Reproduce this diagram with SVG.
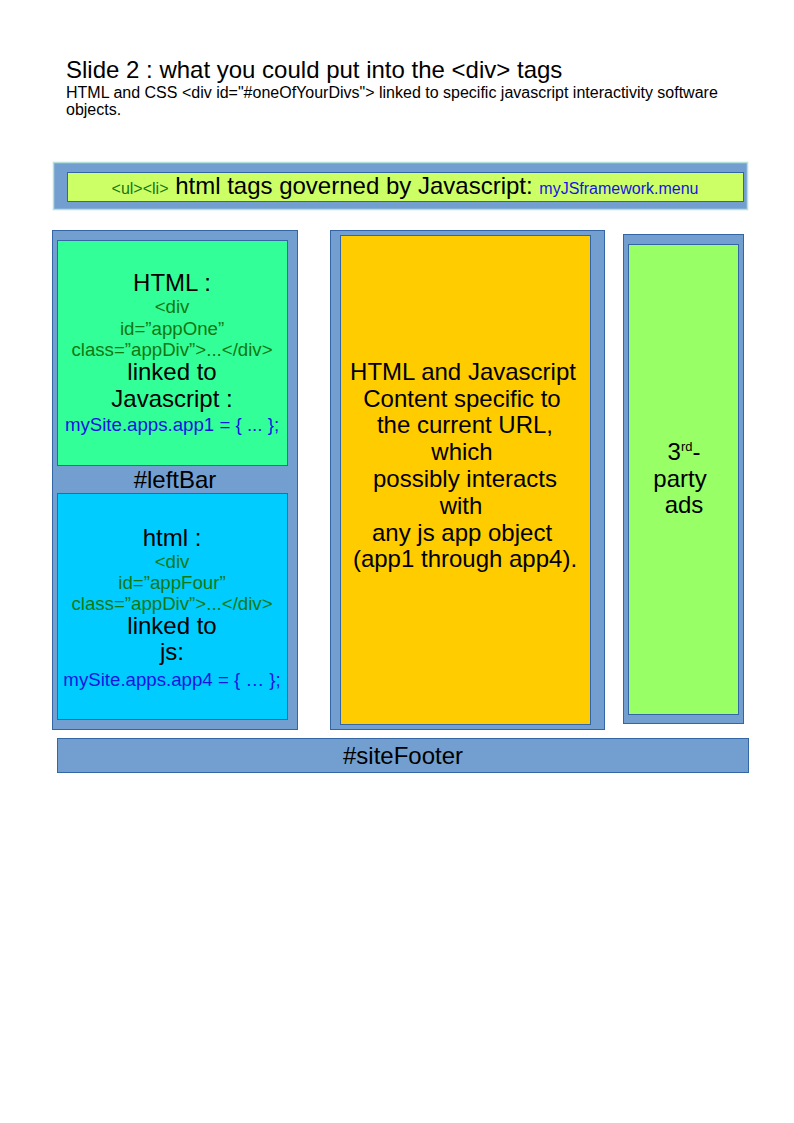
<svg xmlns="http://www.w3.org/2000/svg" width="794" height="1123" viewBox="0 0 794 1123">
<style>
text{font-family:"Liberation Sans",Arial,sans-serif;fill:#000}
.c{text-anchor:middle}
.big{font-size:24px}
.sm{font-size:18.67px}
.grn{fill:#127812}
.blu{fill:#1515e0}
.frame{fill:#729fcf;stroke:#3465a4;stroke-width:1}
</style>
<rect width="794" height="1123" fill="#fff"/>
<g id="title">
<text x="66" y="78" style="font-size:24px">Slide 2 : what you could put into the &lt;div&gt; tags</text>
<text x="66" y="98" style="font-size:16px">HTML and CSS &lt;div id="#oneOfYourDivs"&gt; linked to specific javascript interactivity software</text>
<text x="66" y="115" style="font-size:16px">objects.</text>
</g>
<g id="menu">
<rect x="53.5" y="162.5" width="694" height="47" fill="#729fcf" stroke="#b4e0dc" stroke-width="1.5"/>
<rect x="67.5" y="172.5" width="676" height="29" fill="#ccff66" stroke="#3465a4" stroke-width="1"/>
<text x="405" y="194" class="c"><tspan class="grn" style="font-size:16px">&lt;ul&gt;&lt;li&gt;</tspan><tspan style="font-size:24px"> html tags governed by Javascript: </tspan><tspan class="blu" style="font-size:16px">myJSframework.menu</tspan></text>
</g>
<g id="leftBar">
<rect class="frame" x="52.5" y="230.5" width="245" height="499"/>
<text x="175" y="488" class="c big">#leftBar</text>
</g>
<g id="appOne">
<rect x="57.5" y="240.5" width="230" height="225" fill="#33ff99" stroke="#3465a4"/>
<text x="172" y="291" class="c big">HTML :</text>
<text x="172" y="313" class="c sm grn">&lt;div</text>
<text x="172" y="335" class="c sm grn">id=”appOne”</text>
<text x="172" y="356" class="c sm grn">class=”appDiv”&gt;...&lt;/div&gt;</text>
<text x="172" y="380" class="c big">linked to</text>
<text x="172" y="407" class="c big">Javascript :</text>
<text x="172" y="431" class="c sm blu">mySite.apps.app1 = { ... };</text>
</g>
<g id="appFour">
<rect x="57.5" y="493.5" width="230" height="226" fill="#00ccff" stroke="#3465a4"/>
<text x="172" y="546" class="c big">html :</text>
<text x="172" y="568" class="c sm grn">&lt;div</text>
<text x="172" y="589" class="c sm grn">id=”appFour”</text>
<text x="172" y="610" class="c sm grn">class=”appDiv”&gt;...&lt;/div&gt;</text>
<text x="172" y="634" class="c big">linked to</text>
<text x="172" y="660" class="c big">js:</text>
<text x="172" y="686" class="c sm blu">mySite.apps.app4 = { … };</text>
</g>
<g id="mainContent">
<rect class="frame" x="330.5" y="230.5" width="274" height="499"/>
<rect x="340.5" y="235.5" width="250" height="489" fill="#ffcc00" stroke="#3465a4"/>
<text x="463" y="380" class="c big">HTML and Javascript</text>
<text x="462" y="407" class="c big">Content specific to</text>
<text x="465" y="433" class="c big">the current URL,</text>
<text x="462" y="460" class="c big">which</text>
<text x="465" y="487" class="c big">possibly interacts</text>
<text x="461" y="514" class="c big">with</text>
<text x="462" y="541" class="c big">any js app object</text>
<text x="465" y="567" class="c big">(app1 through app4).</text>
</g>
<g id="ads">
<rect class="frame" x="623.5" y="234.5" width="120" height="489"/>
<rect x="628.5" y="244.5" width="110" height="470" fill="#99ff66" stroke="#3465a4"/>
<text x="684" y="460" class="c big">3<tspan dy="-9" style="font-size:13px">rd</tspan><tspan dy="9">-</tspan></text>
<text x="680" y="487" class="c big">party</text>
<text x="684" y="513" class="c big">ads</text>
</g>
<g id="siteFooter">
<rect class="frame" x="57.5" y="738.5" width="691" height="34"/>
<text x="403" y="764" class="c big">#siteFooter</text>
</g>
<g id="connectors"/>
</svg>
